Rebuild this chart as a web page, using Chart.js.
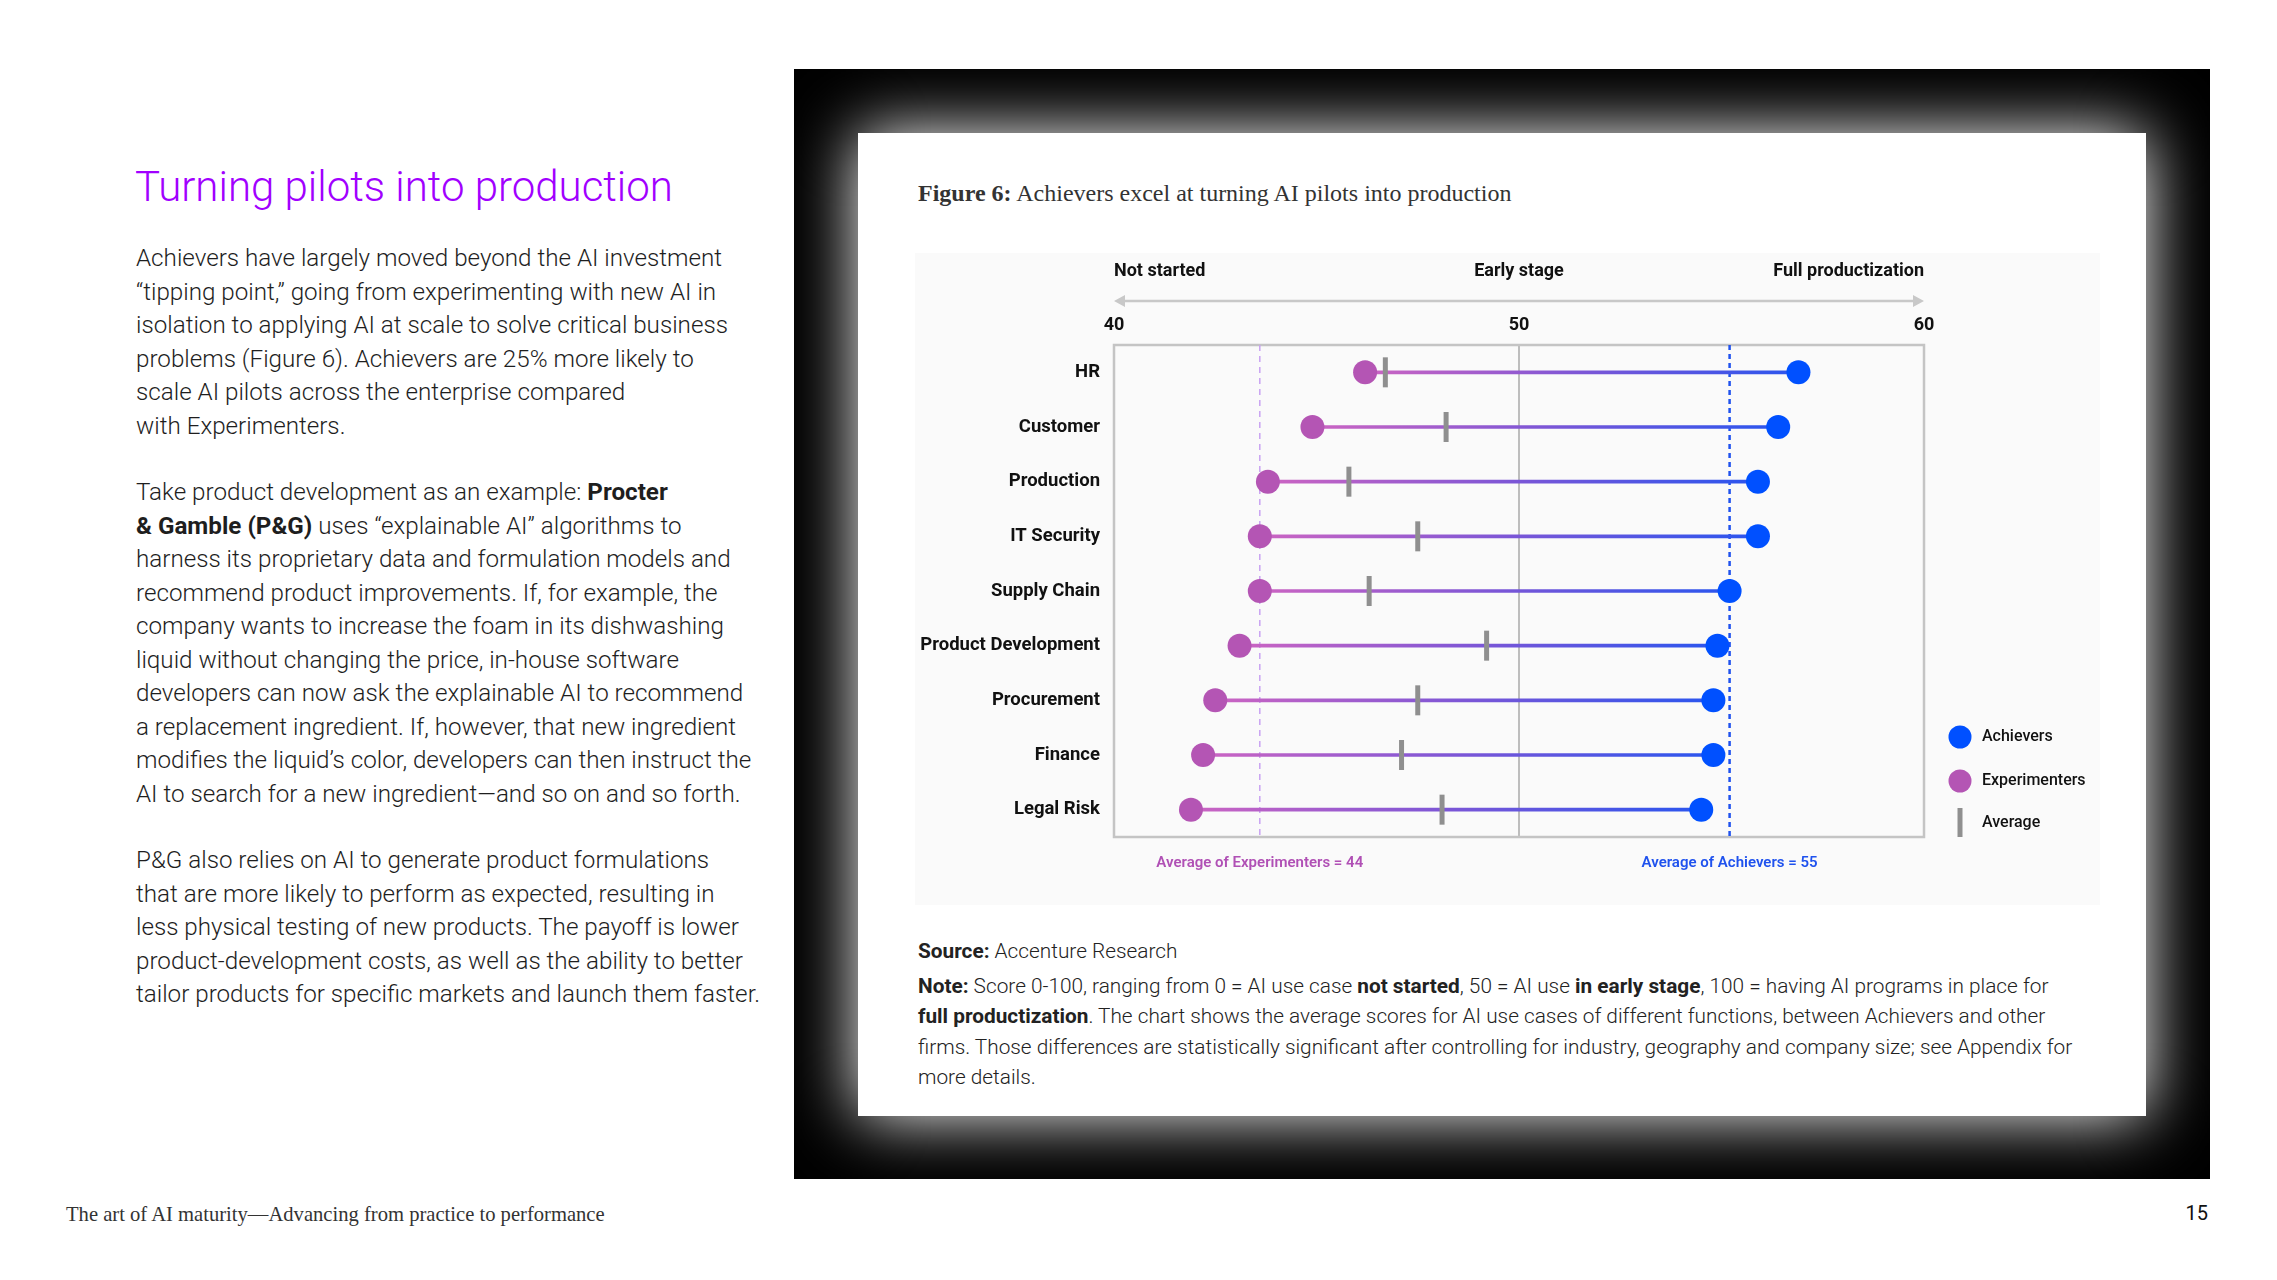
<!DOCTYPE html>
<html>
<head>
<meta charset="utf-8">
<script src="https://cdn.jsdelivr.net/npm/chart.js@4.4.1/dist/chart.umd.min.js"></script>
<style>
  html, body { margin: 0; padding: 0; background: #fff; }
  body { width: 2277px; height: 1280px; position: relative; overflow: hidden; font-family: Roboto, "Noto Sans", sans-serif; color: #1a1a1a; }
  .abs { position: absolute; }
  h1 { position: absolute; left: 135px; top: 162px; margin: 0; font-weight: 300; font-size: 42px; line-height: 50px; color: #a100ff; white-space: nowrap; }
  .body { left: 136px; top: 242px; font-size: 24.2px; line-height: 33.5px; font-weight: 300; color: #1e1e1e; white-space: nowrap; }
  .body p { margin: 0 0 33px 0; }
  .body b { font-weight: 700; }
  .frame { left: 794px; top: 69px; width: 1416px; height: 1110px; background: #000; }
  .card { left: 858px; top: 133px; width: 1288px; height: 983px; background: #fff; box-shadow: 0 0 64px 0 #fff; }
  .title { left: 918px; top: 178px; font-family: "Liberation Serif", "DejaVu Serif", serif; font-size: 24px; line-height: 30px; color: #333; white-space: nowrap; }
  .title b { font-weight: 600; }
  .panel { left: 915px; top: 253px; width: 1185px; height: 652px; background: #fafafa; }
  .notes { left: 918px; top: 936px; font-size: 20.8px; font-weight: 300; color: #222; white-space: nowrap; }
  .notes b { font-weight: 700; }
  .src { line-height: 30px; margin-bottom: 5px; }
  .note { line-height: 30.3px; }
  .footer { left: 66px; top: 1201px; font-family: "Liberation Serif", "DejaVu Serif", serif; font-size: 20.6px; line-height: 26px; color: #333; white-space: nowrap; }
  .pageno { left: 2168px; width: 40px; text-align: right; top: 1200px; font-size: 20px; line-height: 26px; color: #111; }
</style>
</head>
<body>
<h1>Turning pilots into production</h1>
<div class="abs body">
  <p>Achievers have largely moved beyond the AI investment<br>“tipping point,” going from experimenting with new AI in<br>isolation to applying AI at scale to solve critical business<br>problems (Figure 6). Achievers are 25% more likely to<br>scale AI pilots across the enterprise compared<br>with Experimenters.</p>
  <p>Take product development as an example: <b>Procter</b><br><b>&amp; Gamble (P&amp;G)</b> uses “explainable AI” algorithms to<br>harness its proprietary data and formulation models and<br>recommend product improvements. If, for example, the<br>company wants to increase the foam in its dishwashing<br>liquid without changing the price, in-house software<br>developers can now ask the explainable AI to recommend<br>a replacement ingredient. If, however, that new ingredient<br>modifies the liquid’s color, developers can then instruct the<br>AI to search for a new ingredient—and so on and so forth.</p>
  <p>P&amp;G also relies on AI to generate product formulations<br>that are more likely to perform as expected, resulting in<br>less physical testing of new products. The payoff is lower<br>product-development costs, as well as the ability to better<br>tailor products for specific markets and launch them faster.</p>
</div>

<div class="abs frame"></div>
<div class="abs card"></div>
<div class="abs title"><b>Figure 6:</b> Achievers excel at turning AI pilots into production</div>
<div class="abs panel"><canvas id="chart" width="1185" height="652"></canvas></div>
<div class="abs notes">
  <div class="src"><b>Source:</b> Accenture Research</div>
  <div class="note"><b>Note:</b> Score 0-100, ranging from 0 = AI use case <b>not started</b>, 50 = AI use <b>in early stage</b>, 100 = having AI programs in place for<br><b>full productization</b>. The chart shows the average scores for AI use cases of different functions, between Achievers and other<br>firms. Those differences are statistically significant after controlling for industry, geography and company size; see Appendix for<br>more details.</div>
</div>
<div class="abs footer">The art of AI maturity—Advancing from practice to performance</div>
<div class="abs pageno">15</div>

<script>
// Data
const categories = ["HR", "Customer", "Production", "IT Security", "Supply Chain",
  "Product Development", "Procurement", "Finance", "Legal Risk"];
const experimenters = [46.2, 44.9, 43.8, 43.6, 43.6, 43.1, 42.5, 42.2, 41.9];
const achievers = [56.9, 56.4, 55.9, 55.9, 55.2, 54.9, 54.8, 54.8, 54.5];
const average = [46.7, 48.2, 45.8, 47.5, 46.3, 49.2, 47.5, 47.1, 48.1];
const xTicks = [40, 50, 60];
const stageLabels = ["Not started", "Early stage", "Full productization"];
const refValues = [43.6, 55.2];
const refLabels = ["Average of Experimenters = 44", "Average of Achievers = 55"];

const BLUE = "#0050ff";
const PURPLE = "#b455b4";
const GRAY = "#8f8f8f";
const FONT = "Roboto, 'Noto Sans', sans-serif";

// gradient for the connector between the two dots
function connectorColor(c) {
  const chart = c.chart;
  if (!chart.chartArea || c.type !== "data") return PURPLE;
  const x = chart.scales.x;
  const x0 = x.getPixelForValue(c.raw[0]);
  const x1 = x.getPixelForValue(c.raw[1]);
  const g = chart.ctx.createLinearGradient(x0, 0, x1, 0);
  g.addColorStop(0, "#cc64c2");
  g.addColorStop(0.5, "#7c56d6");
  g.addColorStop(1, "#2a55ee");
  return g;
}

const decor = {
  id: "decor",
  beforeDatasetsDraw(chart) {
    const { ctx, chartArea: a, scales: { x } } = chart;
    ctx.save();
    // plot frame
    ctx.strokeStyle = "#c4c4c4";
    ctx.lineWidth = 2.5;
    ctx.strokeRect(a.left, a.top, a.right - a.left, a.bottom - a.top);
    // average reference lines
    const styles = [
      { color: "#c9a3f2", width: 1.5, dash: [6, 5] },
      { color: "#1f52ee", width: 2.5, dash: [5, 4] }
    ];
    refValues.forEach((v, i) => {
      const px = x.getPixelForValue(v);
      ctx.strokeStyle = styles[i].color;
      ctx.lineWidth = styles[i].width;
      ctx.setLineDash(styles[i].dash);
      ctx.beginPath();
      ctx.moveTo(px, a.top);
      ctx.lineTo(px, a.bottom);
      ctx.stroke();
    });
    ctx.restore();
  },
  afterDraw(chart) {
    const { ctx, chartArea: a, scales: { x } } = chart;
    ctx.save();
    // stage labels above the axis
    ctx.fillStyle = "#111";
    ctx.font = "bold 18px " + FONT;
    ctx.textBaseline = "middle";
    const aligns = ["left", "center", "right"];
    stageLabels.forEach((t, i) => {
      ctx.textAlign = aligns[i];
      ctx.fillText(t, x.getPixelForValue(xTicks[i]), a.top - 74);
    });
    // double arrow
    const ay = a.top - 44;
    const xl = x.getPixelForValue(xTicks[0]);
    const xr = x.getPixelForValue(xTicks[xTicks.length - 1]);
    ctx.strokeStyle = "#c8c8c8";
    ctx.fillStyle = "#c8c8c8";
    ctx.lineWidth = 2.5;
    ctx.beginPath();
    ctx.moveTo(xl + 6, ay);
    ctx.lineTo(xr - 6, ay);
    ctx.stroke();
    ctx.beginPath();
    ctx.moveTo(xl, ay); ctx.lineTo(xl + 11, ay - 6); ctx.lineTo(xl + 11, ay + 6); ctx.closePath();
    ctx.moveTo(xr, ay); ctx.lineTo(xr - 11, ay - 6); ctx.lineTo(xr - 11, ay + 6); ctx.closePath();
    ctx.fill();
    // labels of the reference lines
    ctx.font = "600 15px " + FONT;
    ctx.textAlign = "center";
    const refColors = ["#b050b5", "#1f52ee"];
    refValues.forEach((v, i) => {
      ctx.fillStyle = refColors[i];
      ctx.fillText(refLabels[i], x.getPixelForValue(v), a.bottom + 26);
    });
    // legend
    const lx = a.right + 36;
    const tx = lx + 22;
    ctx.font = "500 16px " + FONT;
    ctx.textAlign = "left";
    ctx.fillStyle = BLUE;
    ctx.beginPath(); ctx.arc(lx, a.bottom - 100, 11.5, 0, Math.PI * 2); ctx.fill();
    ctx.fillStyle = PURPLE;
    ctx.beginPath(); ctx.arc(lx, a.bottom - 56, 11.5, 0, Math.PI * 2); ctx.fill();
    ctx.fillStyle = GRAY;
    ctx.fillRect(lx - 2.5, a.bottom - 29, 5, 29);
    ctx.fillStyle = "#111";
    ctx.fillText("Achievers", tx, a.bottom - 100);
    ctx.fillText("Experimenters", tx, a.bottom - 56);
    ctx.fillText("Average", tx, a.bottom - 14);
    ctx.restore();
  }
};

new Chart(document.getElementById("chart"), {
  type: "bar",
  data: {
    labels: categories,
    datasets: [
      {
        type: "line",
        label: "Achievers",
        data: categories.map((c, i) => ({ x: achievers[i], y: c })),
        showLine: false,
        pointRadius: 12,
        pointBackgroundColor: BLUE,
        pointBorderWidth: 0,
        order: 1
      },
      {
        type: "line",
        label: "Experimenters",
        data: categories.map((c, i) => ({ x: experimenters[i], y: c })),
        showLine: false,
        pointRadius: 12,
        pointBackgroundColor: PURPLE,
        pointBorderWidth: 0,
        order: 2
      },
      {
        type: "line",
        label: "Average",
        data: categories.map((c, i) => ({ x: average[i], y: c })),
        showLine: false,
        pointStyle: "line",
        pointRotation: 90,
        pointRadius: 15,
        pointBorderWidth: 5,
        pointBorderColor: GRAY,
        order: 3
      },
      {
        label: "Gap",
        data: categories.map((c, i) => [experimenters[i], achievers[i]]),
        barThickness: 3,
        backgroundColor: connectorColor,
        borderWidth: 0,
        order: 4
      }
    ]
  },
  options: {
    indexAxis: "y",
    responsive: false,
    animation: false,
    events: [],
    layout: { padding: { left: 0, right: 176, top: 0, bottom: 68 } },
    plugins: { legend: { display: false }, tooltip: { enabled: false } },
    scales: {
      x: {
        type: "linear",
        position: "top",
        min: 40,
        max: 60,
        afterBuildTicks: s => { s.ticks = xTicks.map(v => ({ value: v })); },
        afterFit: s => { s.height = 92; },
        border: { display: false },
        grid: {
          drawTicks: false,
          lineWidth: 2,
          color: c => (c.tick && c.tick.value === 50 ? "#bdbdbd" : "rgba(0,0,0,0)")
        },
        ticks: { padding: 9, color: "#111", font: { family: FONT, size: 18, weight: "bold" } }
      },
      y: {
        type: "category",
        afterFit: s => { s.width = 199; },
        border: { display: false },
        grid: { display: false, drawTicks: false },
        ticks: { padding: 14, color: "#111", font: { family: FONT, size: 18.5, weight: "bold" } }
      }
    }
  },
  plugins: [decor]
});
</script>
</body>
</html>
